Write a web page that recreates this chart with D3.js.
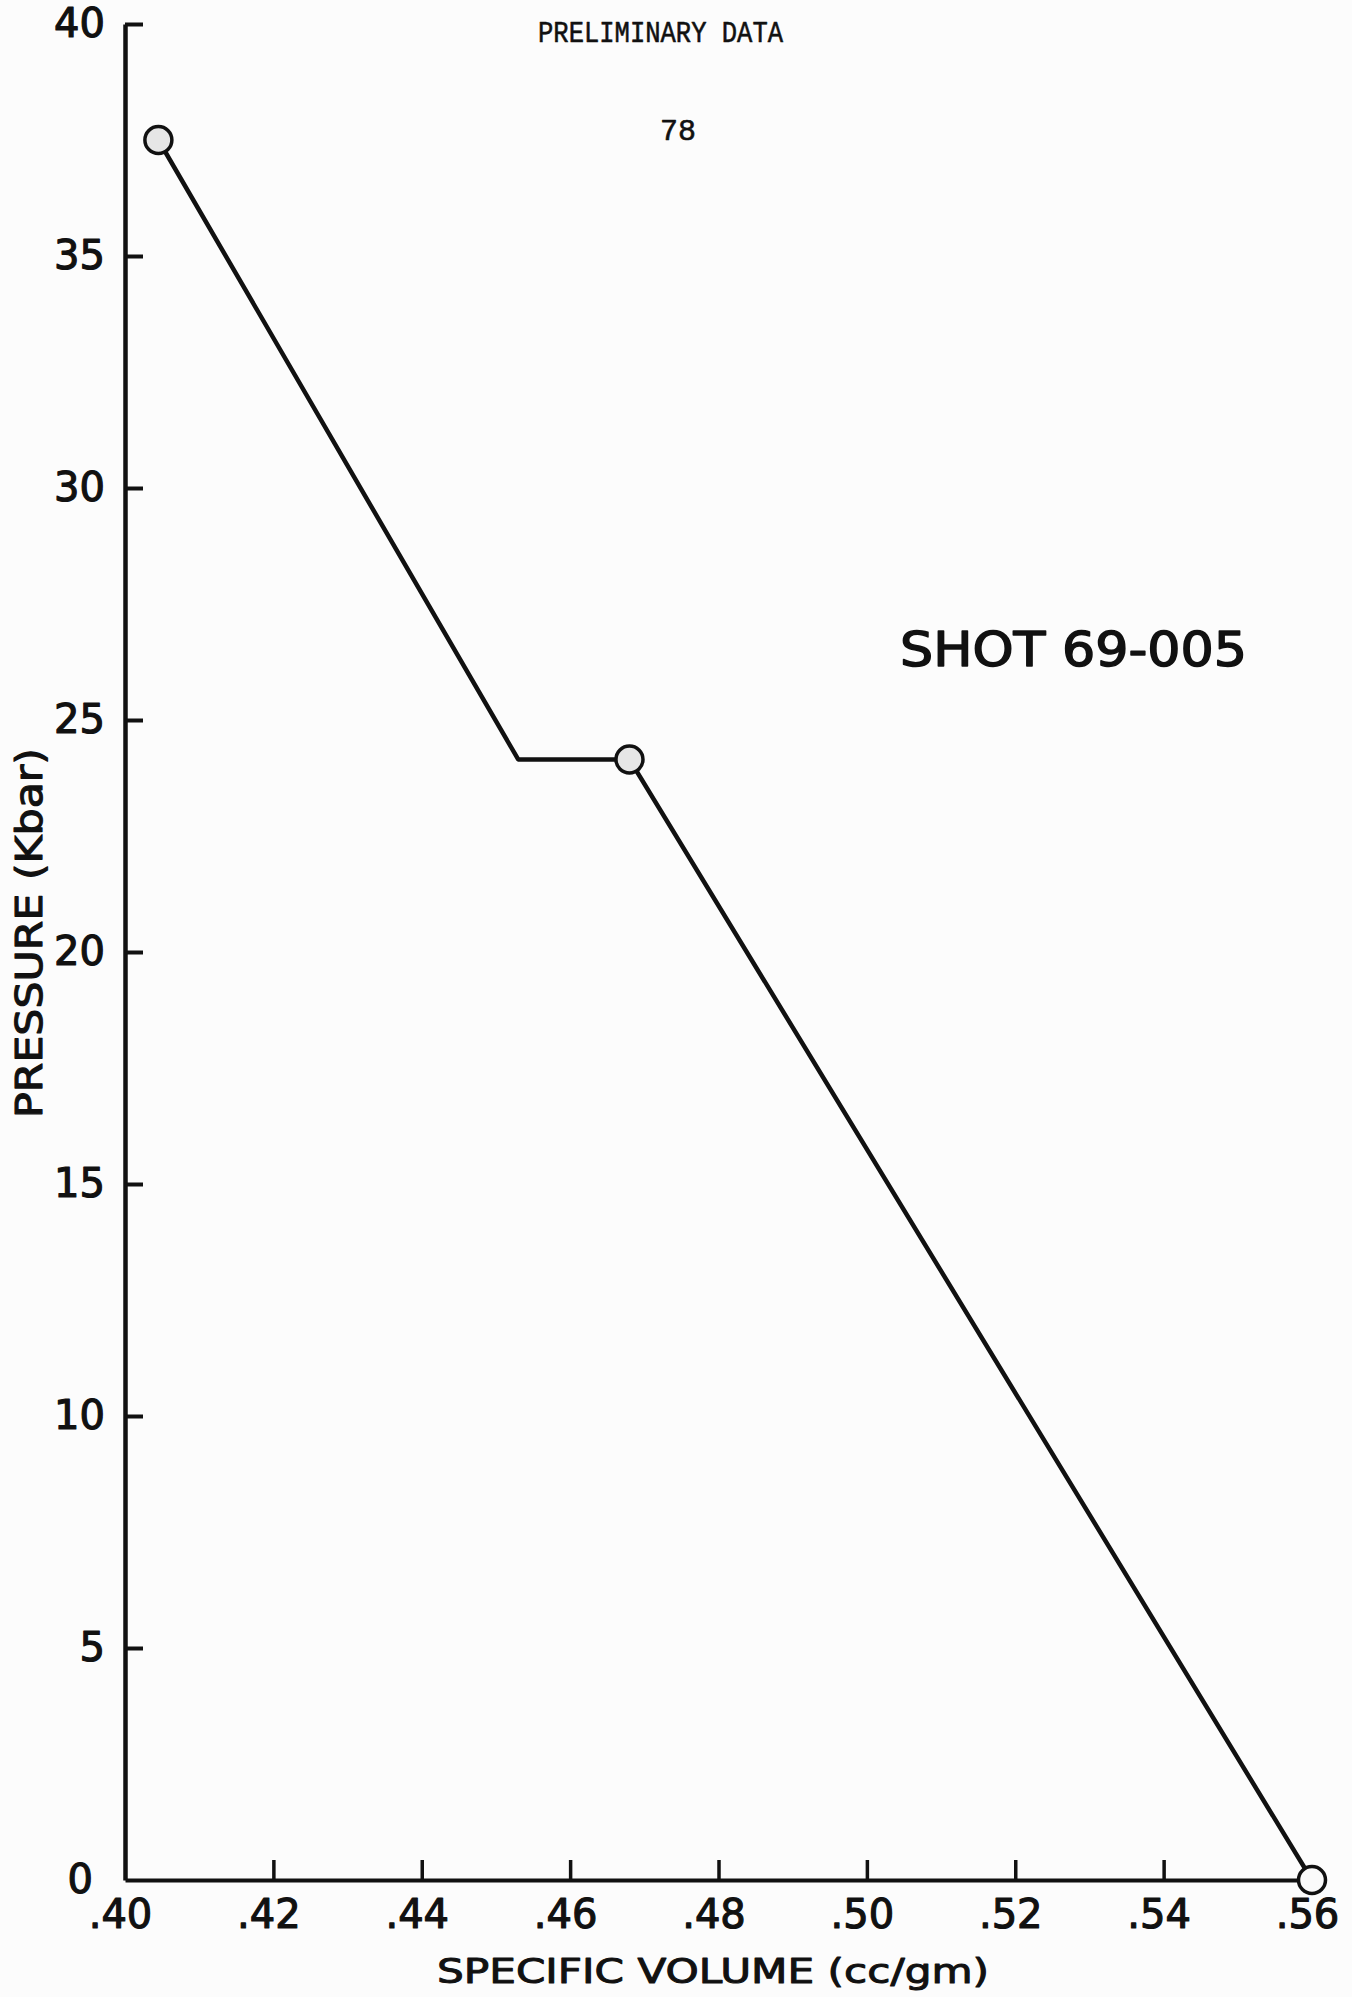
<!DOCTYPE html>
<html>
<head>
<meta charset="utf-8">
<script src="https://cdn.jsdelivr.net/npm/d3@7"></script>
<style>
  html, body { margin: 0; padding: 0; background: #fcfcfc; }
  svg { display: block; }
</style>
</head>
<body>
<svg id="chart" width="1352" height="1997"></svg>
<script>
// Shot 69-005: pressure vs specific volume
const pathVolume   = [0.4045, 0.453, 0.468, 0.56];
const pathPressure = [37.5, 24.15, 24.15, 0];

// measured points (open circles)
const pointVolume   = [0.4045, 0.468, 0.56];
const pointPressure = [37.5, 24.15, 0];

const xTickValues = [0.40, 0.42, 0.44, 0.46, 0.48, 0.50, 0.52, 0.54, 0.56];
const xTickLabels = [".40", ".42", ".44", ".46", ".48", ".50", ".52", ".54", ".56"];
const yTickValues = [0, 5, 10, 15, 20, 25, 30, 35, 40];
const yTickLabels = ["0", "5", "10", "15", "20", "25", "30", "35", "40"];

const ink = "#111";
const labelFont = "'DejaVu Sans', sans-serif";

// lettering is drawn with a thin outline to give the heavier pen weight
function pen(sel, w) {
  return sel.attr("fill", ink).attr("stroke", ink).attr("stroke-width", w)
    .attr("stroke-linejoin", "round");
}

const svg = d3.select("#chart");

const x = d3.scaleLinear().domain([0.40, 0.56]).range([125, 1312]);
const y = d3.scaleLinear().domain([0, 40]).range([1880, 24]);

// page header
pen(svg.append("text")
  .attr("x", 538).attr("y", 42)
  .attr("textLength", 245).attr("lengthAdjust", "spacingAndGlyphs")
  .attr("font-family", "'Liberation Mono', monospace")
  .attr("font-size", 30)
  .text("PRELIMINARY DATA"), 0.6);

pen(svg.append("text")
  .attr("x", 678).attr("y", 140)
  .attr("text-anchor", "middle")
  .attr("font-family", "'Liberation Mono', monospace")
  .attr("font-size", 30)
  .text("78"), 0.6);

// y axis
const yAxis = d3.axisLeft(y)
  .tickValues(yTickValues)
  .tickFormat((d, i) => yTickLabels[i])
  .tickSizeInner(-18)
  .tickSizeOuter(0)
  .tickPadding(20);

const gy = svg.append("g")
  .attr("transform", `translate(${x(0.40)},0)`)
  .call(yAxis);
gy.select(".domain").attr("stroke", ink).attr("stroke-width", 4.5);
gy.selectAll(".tick line").attr("stroke", ink).attr("stroke-width", 4)
  .filter(d => d === 0).remove();
pen(gy.selectAll(".tick text")
  .attr("font-family", labelFont).attr("font-size", 40), 1.2);
gy.selectAll(".tick text").filter(d => d === 0).attr("dx", -12);

// x axis
const xAxis = d3.axisBottom(x)
  .tickValues(xTickValues)
  .tickFormat((d, i) => xTickLabels[i])
  .tickSizeInner(-20)
  .tickSizeOuter(0)
  .tickPadding(20);

const gx = svg.append("g")
  .attr("transform", `translate(0,${y(0)})`)
  .call(xAxis);
gx.select(".domain").attr("stroke", ink).attr("stroke-width", 4);
gx.selectAll(".tick line").attr("stroke", ink).attr("stroke-width", 3.5)
  .filter(d => d === 0.40 || d === 0.56).remove();
pen(gx.selectAll(".tick text")
  .attr("font-family", labelFont).attr("font-size", 40)
  .attr("dx", -5), 1.2);

// axis titles
pen(svg.append("text")
  .attr("x", 437).attr("y", 1983)
  .attr("textLength", 552).attr("lengthAdjust", "spacingAndGlyphs")
  .attr("font-family", labelFont).attr("font-size", 34)
  .text("SPECIFIC VOLUME (cc/gm)"), 1);

pen(svg.append("text")
  .attr("transform", "translate(42,1118) rotate(-90)")
  .attr("textLength", 370).attr("lengthAdjust", "spacingAndGlyphs")
  .attr("font-family", labelFont).attr("font-size", 38)
  .text("PRESSURE  (Kbar)"), 1.1);

// shot label
pen(svg.append("text")
  .attr("x", 900).attr("y", 666)
  .attr("textLength", 347).attr("lengthAdjust", "spacingAndGlyphs")
  .attr("font-family", labelFont).attr("font-size", 48)
  .text("SHOT  69-005"), 1.5);

// data path
const line = d3.line()
  .x((d, i) => x(pathVolume[i]))
  .y((d, i) => y(pathPressure[i]));

svg.append("path")
  .attr("d", line(pathVolume))
  .attr("fill", "none")
  .attr("stroke", ink)
  .attr("stroke-width", 4.5)
  .attr("stroke-linejoin", "round");

// measured points
svg.selectAll("circle.pt")
  .data(pointVolume)
  .join("circle")
  .attr("class", "pt")
  .attr("cx", (d, i) => x(pointVolume[i]))
  .attr("cy", (d, i) => y(pointPressure[i]))
  .attr("r", 13.5)
  .attr("fill", (d, i) => i === pointVolume.length - 1 ? "#fafafa" : "#e6e6e6")
  .attr("stroke", ink)
  .attr("stroke-width", 3.5);
</script>
</body>
</html>
